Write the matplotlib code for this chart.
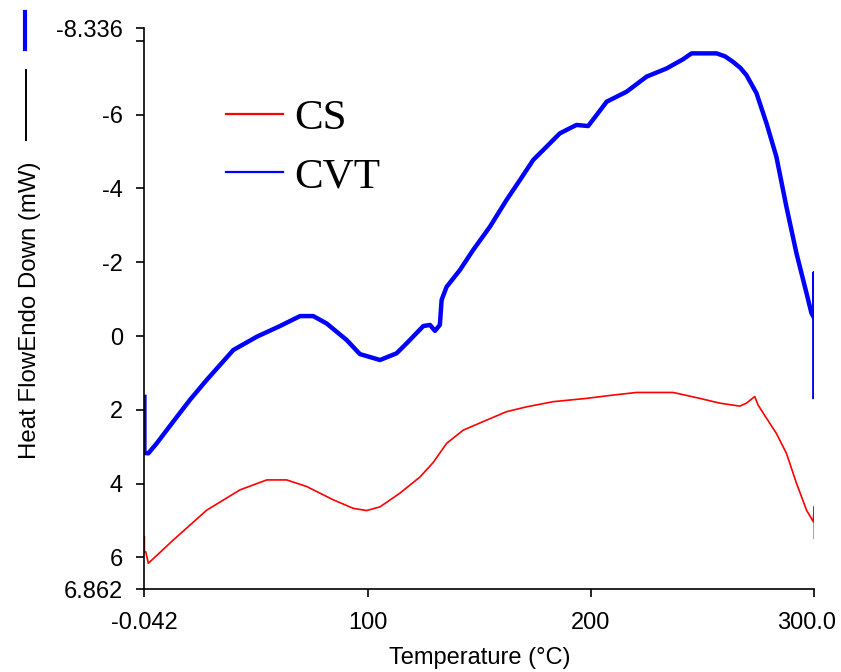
import numpy as np
import matplotlib
matplotlib.use('Agg')
import matplotlib.pyplot as plt
from matplotlib.lines import Line2D
from matplotlib.transforms import ScaledTranslation

plt.rcParams['font.family'] = ['Liberation Sans', 'DejaVu Sans']

# DSC traces, temperature in C and heat flow in mW (endo down)
cvt_temp = [0.0, 0.0, 1.75, 5.5, 12.9, 20.4, 27.9, 39.8, 50.3, 60.7, 69.7, 75.6,
            81.6, 90.6, 96.5, 105.5, 112.9, 117.4, 124.9, 127.9, 130.1, 132.3,
            133.1, 135.3, 141.3, 147.2, 154.7, 162.2, 168.2, 174.1, 178.6, 186.0,
            190.5, 193.5, 198.7, 202.5, 207.0, 215.9, 224.9, 233.8, 241.2, 245.0,
            256.2, 260.0, 263.6, 266.8, 269.6, 274.1, 278.6, 283.0, 287.5, 292.0,
            296.5, 298.7, 300.0, 300.0, 300.0]
cvt_flow = [1.65, 3.17, 3.18, 2.91, 2.32, 1.73, 1.19, 0.38, 0.02, -0.27, -0.54, -0.54,
            -0.34, 0.11, 0.49, 0.65, 0.47, 0.20, -0.27, -0.30, -0.14, -0.30,
            -0.98, -1.33, -1.79, -2.33, -2.96, -3.69, -4.23, -4.77, -5.04, -5.49,
            -5.63, -5.72, -5.69, -5.99, -6.35, -6.62, -7.03, -7.25, -7.50, -7.66,
            -7.66, -7.58, -7.43, -7.27, -7.07, -6.58, -5.76, -4.86, -3.50, -2.24,
            -1.16, -0.62, -0.48, -1.70, 1.65]

cs_temp = [0.0, 0.0, 0.6, 1.75, 12.9, 27.9, 42.8, 54.8, 63.7, 72.7, 84.6, 93.5,
           99.5, 105.5, 114.4, 123.4, 129.3, 135.3, 142.8, 153.2, 162.2, 171.1,
           183.0, 198.0, 209.9, 220.4, 236.8, 248.7, 257.7, 266.6, 269.6, 273.3,
           274.8, 278.6, 283.0, 287.5, 292.0, 296.5, 299.5, 300.0, 300.0]
cs_flow = [5.44, 5.85, 5.85, 6.16, 5.53, 4.72, 4.17, 3.90, 3.90, 4.08, 4.44, 4.67,
           4.73, 4.63, 4.26, 3.82, 3.43, 2.91, 2.55, 2.28, 2.05, 1.92,
           1.78, 1.69, 1.60, 1.53, 1.53, 1.69, 1.82, 1.90, 1.82, 1.64,
           1.87, 2.23, 2.64, 3.18, 3.99, 4.72, 5.03, 4.62, 5.48]

y_ticks = [-8.336, -8, -6, -4, -2, 0, 2, 4, 6, 6.862]
y_labels = ['-8.336', '', '-6', '-4', '-2', '0', '2', '4', '6', '6.862']
x_ticks = [-0.042, 100, 200, 300]
x_labels = ['-0.042', '100', '200', '300.0']

fig = plt.figure(figsize=(8.41, 6.72), dpi=100)
ax = fig.add_axes([0.1716, 0.1232, 0.7967, 0.8345])

ax.plot(cs_temp, cs_flow, color='#ff0000', lw=1.2, label='CS')
ax.plot(cvt_temp, cvt_flow, color='#0000ff', lw=3.2, label='CVT')

ax.set_xlim(-0.042, 300)
ax.set_ylim(6.862, -8.336)
ax.set_yticks(y_ticks)
ax.set_yticklabels(y_labels)
ax.set_xticks(x_ticks)
ax.set_xticklabels(x_labels)
ax.tick_params(direction='out', length=5.5, width=1.2, labelsize=17, pad=10)
ax.tick_params(axis='x', pad=11)

# keep the last x label inside the figure
last = ax.get_xticklabels()[-1]
last.set_transform(last.get_transform() + ScaledTranslation(-5.5 / 72, 0, fig.dpi_scale_trans))

for s in ['top', 'right']:
    ax.spines[s].set_visible(False)
for s in ['left', 'bottom']:
    ax.spines[s].set_linewidth(1.2)

ax.set_xlabel('Temperature (°C)', fontsize=17, labelpad=9)

# y label in the style of the analysis software, with line samples
fig.text(0.0355, 0.5387, 'Heat FlowEndo Down (mW)', rotation=90,
         fontsize=17.3, ha='center', va='center')
fig.add_artist(Line2D([0.031, 0.031], [0.7917, 0.8958], color='black', lw=1.4))
fig.add_artist(Line2D([0.0297, 0.0297], [0.927, 0.982], color='#0000ff', lw=3.0))

leg = ax.legend(loc='upper left', bbox_to_anchor=(0.269, 0.853), bbox_transform=fig.transFigure,
                frameon=False, prop={'family': 'Liberation Serif', 'size': 31},
                handlelength=1.33, handletextpad=0.26, labelspacing=0.45,
                borderpad=0, borderaxespad=0)
for line in leg.get_lines():
    line.set_linewidth(1.6)

fig.savefig('out.png', dpi=100)
